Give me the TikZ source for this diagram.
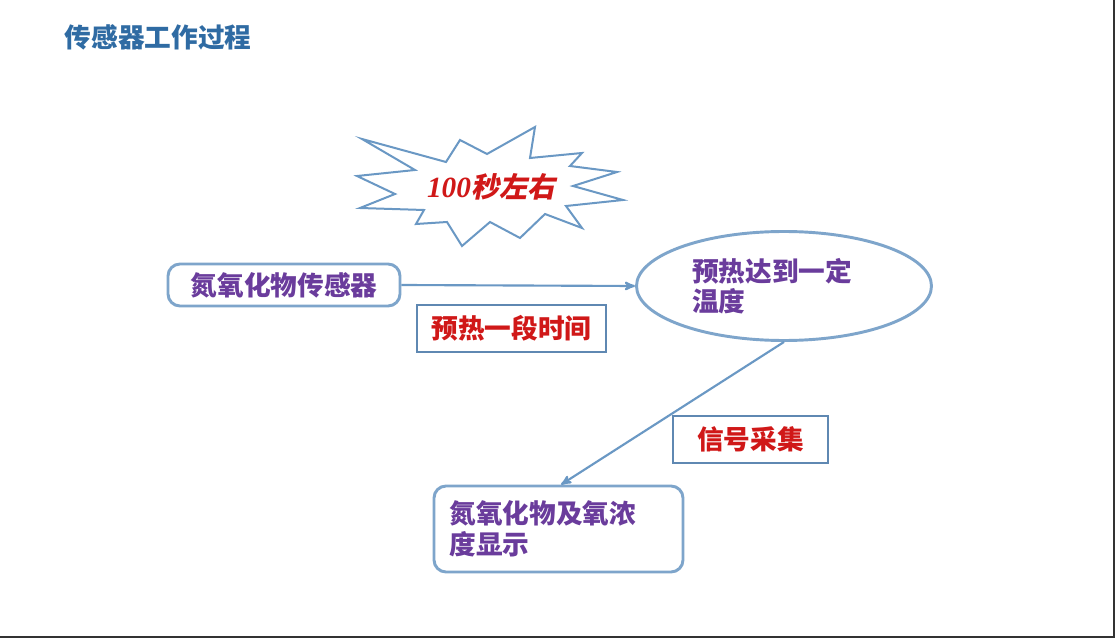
\documentclass[tikz,border=0pt]{standalone}
\usepackage{fontspec}
\newfontfamily\cjk{Noto Sans CJK SC}
\newfontfamily\cjkslant{Noto Sans CJK SC}[FakeSlant=0.2]
\newfontfamily\romanit{Liberation Serif}
\usetikzlibrary{arrows, shapes.geometric}

\definecolor{titleblue}{HTML}{2F6BA3}
\definecolor{boxblue}{HTML}{7EA5CB}
\definecolor{tagblue}{HTML}{5F88B2}
\definecolor{linkblue}{HTML}{6A98C4}
\definecolor{textpurple}{HTML}{6A3C9C}
\definecolor{textred}{HTML}{D01818}

\begin{document}
\begin{tikzpicture}[x=0.75pt,y=-0.75pt,>=stealth',thick,
  round node/.style={rectangle,rounded corners=9pt,draw=boxblue,line width=2.2pt,inner sep=4pt,font=\cjk\bfseries\fontsize{20pt}{23pt}\selectfont,text=textpurple},
  oval node/.style={ellipse,draw=boxblue,line width=2.2pt,inner sep=4pt,font=\cjk\bfseries\fontsize{20pt}{22.5pt}\selectfont,text=textpurple},
  tag node/.style={rectangle,draw=tagblue,line width=2.2pt,inner sep=4pt,font=\cjk\bfseries\fontsize{20pt}{23pt}\selectfont,text=textred},
  link/.style={->,draw=linkblue,line width=1.6pt}]

  \useasboundingbox[fill=white] (0,0) rectangle (1115,638);
  \draw[black!80,line width=1.2pt] (0,637) -- (1114,637) -- (1114,0);

  \node[anchor=west,text=titleblue,font=\cjk\bfseries\fontsize{20pt}{24pt}\selectfont] (title) at (60,37) {传感器工作过程};

  % starburst
  \draw[draw=linkblue,line width=1.5pt,line join=miter]
    (362,139) -- (415,170) -- (357,176) -- (395,194) -- (360,208) -- (424,210)
    -- (416,224) -- (447,222) -- (462,246) -- (490,222) -- (520,238) -- (545,214)
    -- (582,228) -- (566,206) -- (623,200) -- (573,186) -- (617,172) -- (570,166)
    -- (582,153) -- (530,158) -- (535,127) -- (487,154) -- (460,140) -- (446,162) -- cycle;
  \node[text=textred] (burst) at (491,187) {{\romanit\itshape\bfseries\fontsize{22pt}{24pt}\selectfont 100}{\cjkslant\bfseries\fontsize{21pt}{24pt}\selectfont 秒左右}};

  \node[round node,minimum width=174pt,minimum height=31.5pt] (sensor) at (284,285) {氮氧化物传感器};
  \node[oval node,minimum width=221.25pt,minimum height=81.75pt,text width=138pt,align=left] (heat) at (784,286) {预热达到一定\\温度};
  \node[round node,minimum width=186.75pt,minimum height=64.5pt,text width=163.5pt,align=left] (display) at (558.5,529) {氮氧化物及氧浓\\度显示};

  \node[tag node,minimum width=141.75pt,minimum height=35.25pt] (preheat) at (511.5,328.5) {预热一段时间};
  \node[tag node,minimum width=116.25pt,minimum height=35.25pt] (signal) at (750.5,439.5) {信号采集};

  \draw[link] (sensor.east) -- (heat.west);
  \draw[link] (heat.south) -- ([xshift=2pt]display.north);
\end{tikzpicture}
\end{document}
